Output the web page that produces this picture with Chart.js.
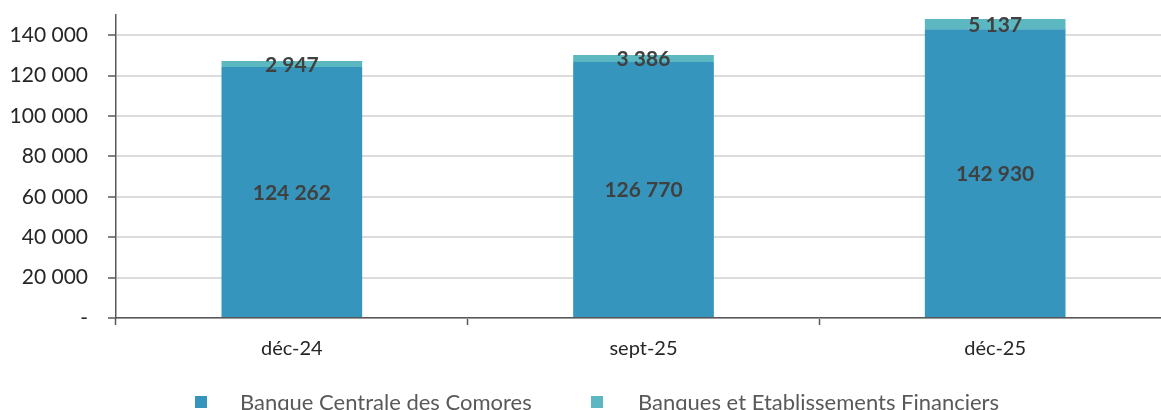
<!DOCTYPE html>
<html><head><meta charset="utf-8">
<script src="https://cdn.jsdelivr.net/npm/chart.js@4.4.1/dist/chart.umd.min.js"></script>
<style>html,body{margin:0;padding:0;overflow:hidden;background:#fff}#wrap{width:1172px;height:410px}</style>
</head><body><div id="wrap"><canvas id="c"></canvas></div>
<script>
const categories = ['déc-24', 'sept-25', 'déc-25'];
const bccValues = [124262, 126770, 142930];
const befValues = [2947, 3386, 5137];
const seriesNames = ['Banque Centrale des Comores', 'Banques et Etablissements Financiers'];
const seriesColors = ['#3595BC', '#5BB8C1'];
const yTicks = [0, 20000, 40000, 60000, 80000, 100000, 120000, 140000];
const yMax = 150000;

const fmt = v => v === 0 ? '-' : String(Math.round(v)).replace(/\B(?=(\d{3})+(?!\d))/g, ' ');

const labelPlugin = {
  id: 'vals',
  afterDatasetsDraw(chart) {
    const ctx = chart.ctx;
    ctx.save();
    ctx.font = 'bold 21px Lato';
    ctx.fillStyle = '#404040';
    ctx.textAlign = 'center';
    ctx.textBaseline = 'middle';
    chart.data.datasets.forEach((ds, di) => {
      const meta = chart.getDatasetMeta(di);
      meta.data.forEach((bar, i) => {
        const y = (bar.y + bar.base) / 2 + 1;
        ctx.fillText(fmt(ds.data[i]), bar.x, y);
      });
    });
    ctx.restore();
  },
  afterDraw(chart) {
    const ctx = chart.ctx;
    ctx.save();
    ctx.font = '22px Lato';
    ctx.textBaseline = 'middle';
    const items = [[195, 240], [591, 638]];
    items.forEach((p, i) => {
      ctx.fillStyle = seriesColors[i];
      ctx.fillRect(p[0], 396, 12, 12);
      ctx.fillStyle = '#595959';
      ctx.fillText(seriesNames[i], p[1], 403);
    });
    ctx.restore();
  }
};

new Chart(document.getElementById('c'), {
  type: 'bar',
  data: {
    labels: categories,
    datasets: [
      { label: seriesNames[0], data: bccValues, backgroundColor: seriesColors[0], barPercentage: 0.4, categoryPercentage: 1 },
      { label: seriesNames[1], data: befValues, backgroundColor: seriesColors[1], barPercentage: 0.4, categoryPercentage: 1 }
    ]
  },
  plugins: [labelPlugin],
  options: {
    responsive: true,
    maintainAspectRatio: false,
    animation: false,
    layout: { padding: { top: 15, right: 1, left: 0, bottom: 0 } },
    plugins: { legend: { display: false }, tooltip: { enabled: false } },
    scales: {
      x: {
        stacked: true,
        grid: { display: true, drawOnChartArea: false, offset: true, tickLength: 7, tickColor: '#595959', tickWidth: 1.5 },
        border: { color: '#595959', width: 1.5 },
        ticks: { color: '#262626', font: { family: 'Lato', size: 20 }, padding: 12 },
        afterFit(s) { s.height = 92; s.paddingLeft = 0; s.paddingRight = 0; }
      },
      y: {
        stacked: true,
        min: 0, max: yMax,
        grid: { color: '#dcdcdc', lineWidth: 2, tickLength: 8, tickColor: '#595959', tickWidth: 1.5 },
        border: { color: '#595959', width: 1.5 },
        ticks: { color: '#262626', font: { family: 'Lato', size: 21 }, padding: 20, callback: v => fmt(v) },
        afterBuildTicks(s) { s.ticks = yTicks.map(v => ({ value: v })); },
        afterFit(s) { s.width = 116; s.paddingTop = 0; s.paddingBottom = 0; }
      }
    }
  }
});
</script></body></html>
